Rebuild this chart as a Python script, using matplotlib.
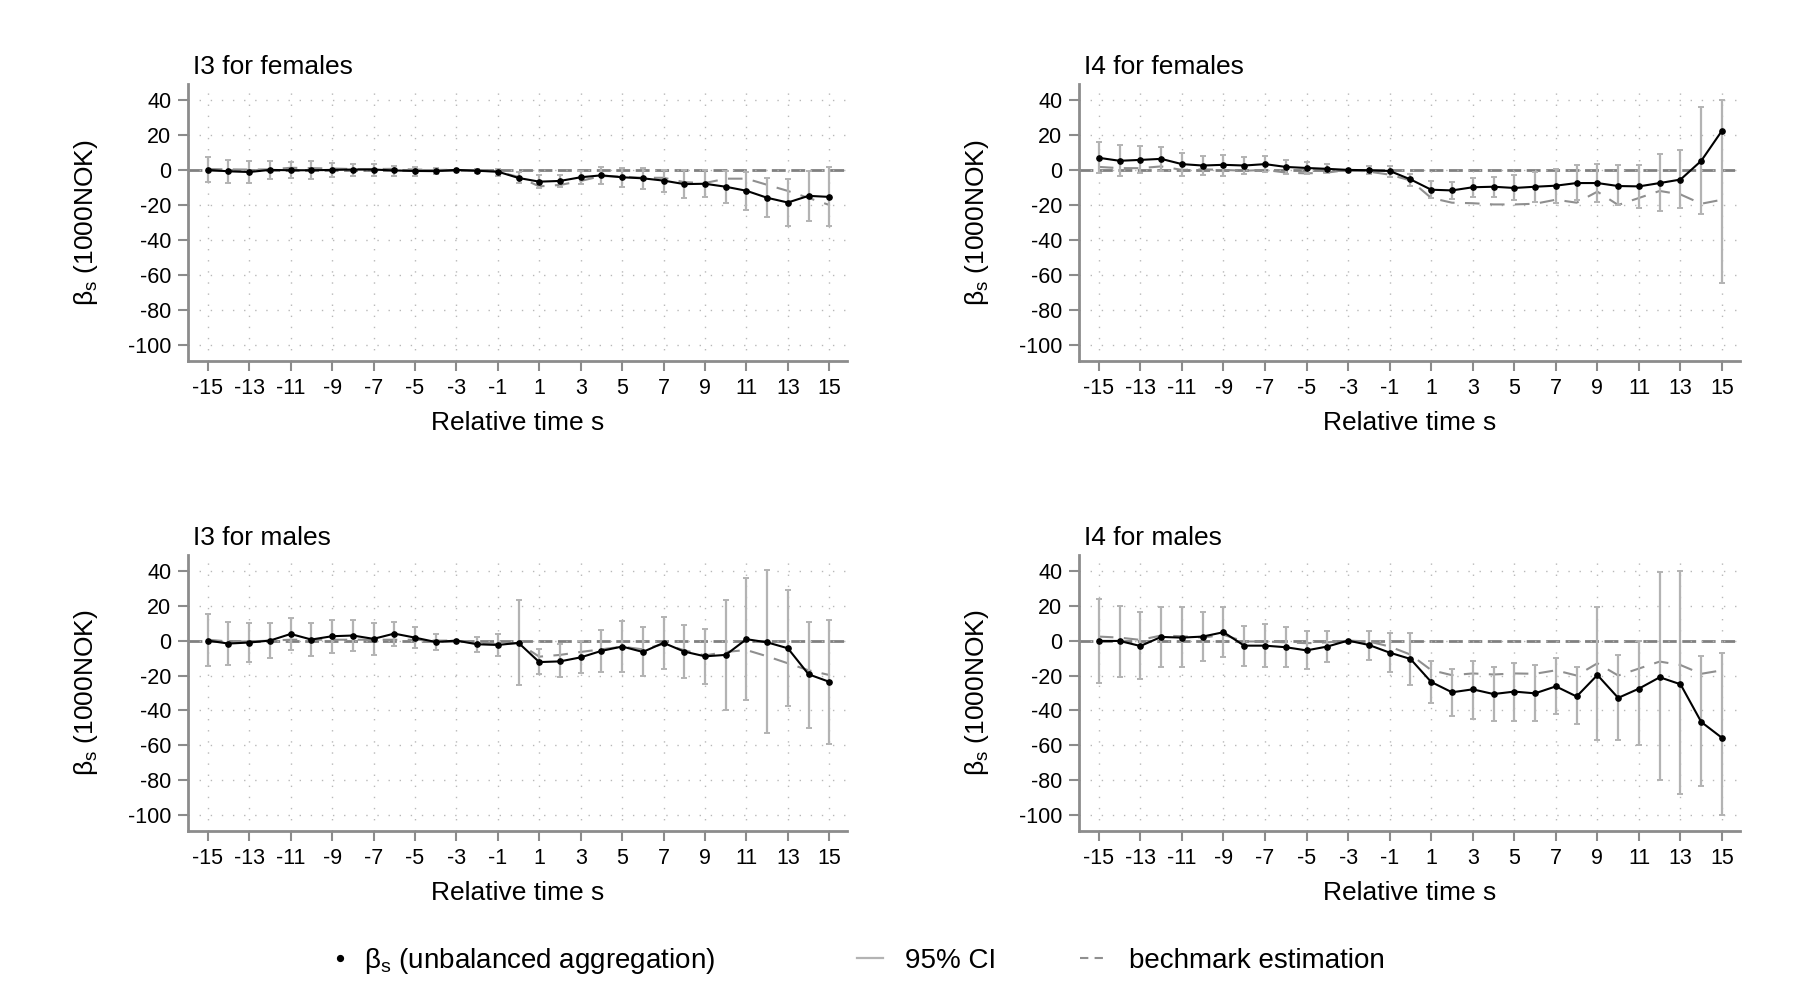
import numpy as np
import matplotlib
matplotlib.use('Agg')
import matplotlib.pyplot as plt
from matplotlib.lines import Line2D

plt.rcParams['font.family'] = ['Liberation Sans', 'DejaVu Sans']
plt.rcParams['mathtext.fontset'] = 'custom'
plt.rcParams['mathtext.rm'] = 'Liberation Sans'

# relative time s, reference period is s = -3 (no CI)
s = list(range(-15, 16))
nan = np.nan

# ---- I3 for females ----
i3f_est = [0.0, -0.8, -1.2, 0.0, -0.2, -0.2, 0.0, 0.2, 0.2, -0.3, -0.6, -0.7, 0.0, -0.5, -1.0, -4.6,
           -6.7, -6.3, -4.2, -3.1, -4.2, -4.8, -6.1, -8.1, -7.9, -9.6, -11.9, -15.9, -18.6, -14.8, -15.4]
i3f_hi = [7.5, 5.6, 5.2, 5.2, 4.4, 4.8, 4.0, 3.6, 3.3, 2.3, 1.7, 1.0, nan, 0.8, 0.4, -1.3,
          -3.0, -2.7, -0.6, 1.7, 1.2, 1.2, 0.0, -0.2, -0.2, -0.6, -1.2, -4.8, -5.4, -0.4, 1.7]
i3f_lo = [-7.1, -7.3, -7.5, -5.2, -4.6, -5.4, -4.2, -3.5, -3.3, -3.5, -3.3, -2.4, nan, -1.8, -3.6, -7.5,
          -10.2, -9.8, -8.3, -7.9, -10.0, -10.7, -12.7, -15.9, -15.5, -18.8, -22.6, -27.0, -32.0, -29.0, -32.2]
i3f_bench = [0.5, 0.3, 0.2, 0.3, 1.2, 1.0, 0.8, 0.5, 0.5, 0.6, 0.2, 0.0, 0.0, -0.3, -1.0, -4.0,
             -9.4, -8.6, -6.3, -3.5, -3.8, -4.5, -4.5, -7.0, -7.5, -5.0, -5.0, -8.5, -12.0, -16.0, -20.0]

# ---- I4 for females ----
i4f_est = [6.9, 5.2, 5.7, 6.3, 3.3, 2.5, 2.9, 2.5, 3.3, 1.7, 1.1, 0.6, 0.0, -0.2, -0.6, -5.4,
           -11.3, -11.7, -9.9, -9.6, -10.3, -9.6, -9.0, -7.5, -7.5, -9.2, -9.4, -7.5, -5.5, 5.2, 22.4]
i4f_hi = [15.7, 14.0, 13.6, 13.0, 9.9, 8.2, 8.6, 7.6, 8.2, 5.7, 4.6, 3.4, nan, 2.3, 2.3, -2.3,
          -6.1, -6.9, -4.4, -3.8, -3.1, -1.1, 0.6, 2.7, 3.1, 2.7, 2.9, 9.2, 11.1, 36.0, 40.0]
i4f_lo = [-2.0, -3.6, -1.9, -0.6, -3.4, -2.9, -3.3, -2.5, -1.3, -2.1, -2.3, -2.0, nan, -2.3, -4.0, -9.4,
          -15.9, -16.6, -15.5, -15.3, -17.4, -18.4, -18.7, -17.4, -18.2, -20.0, -22.0, -23.7, -21.8, -25.4, -64.4]
i4f_bench = [1.7, 1.0, 1.0, 2.0, 0.0, 0.3, 0.0, -0.5, 0.0, -1.5, -2.0, -1.5, 0.0, -1.0, -2.7, -6.0,
             -16.0, -18.7, -19.0, -19.7, -19.7, -19.3, -17.0, -18.7, -12.4, -20.0, -16.0, -12.0, -14.0, -19.3, -17.0]

# ---- I3 for males ----
i3m_est = [0.0, -1.7, -1.1, 0.0, 3.8, 0.6, 2.5, 2.9, 1.0, 4.0, 1.7, -0.8, 0.0, -2.1, -2.5, -1.3,
           -12.3, -11.9, -9.6, -5.9, -3.4, -6.5, -1.3, -6.3, -9.0, -8.2, 0.8, -1.0, -4.4, -19.3, -23.6]
i3m_hi = [15.1, 10.7, 10.2, 10.3, 12.8, 10.0, 11.7, 12.0, 10.2, 10.9, 7.7, 3.6, nan, 2.1, 4.0, 23.2,
          -5.0, -2.1, -0.2, 6.3, 11.1, 7.9, 13.6, 9.2, 6.7, 23.4, 35.8, 40.2, 28.9, 10.9, 11.9]
i3m_lo = [-14.8, -14.2, -12.5, -10.0, -5.2, -8.8, -6.9, -6.1, -8.0, -2.9, -4.0, -5.4, nan, -6.7, -9.0, -25.5,
          -19.2, -21.1, -18.8, -18.2, -17.8, -20.5, -16.5, -21.6, -24.9, -39.8, -34.1, -52.9, -37.4, -50.0, -59.0]
i3m_bench = [0.5, -0.5, -0.5, 0.0, 0.5, 0.5, 0.5, 0.5, 0.5, 0.5, 0.5, 0.0, 0.0, -1.5, -2.0, -1.5,
             -9.2, -8.2, -6.5, -5.0, -3.5, -5.0, -2.0, -5.5, -8.5, -6.5, -5.4, -9.0, -13.0, -17.0, -19.7]

# ---- I4 for males ----
i4m_est = [-0.2, -0.2, -3.1, 2.1, 1.7, 2.3, 4.8, -2.9, -2.9, -3.8, -5.6, -3.4, 0.0, -2.5, -6.9, -10.5,
           -23.7, -29.6, -27.9, -30.6, -29.2, -30.2, -26.2, -32.0, -19.7, -32.8, -27.5, -21.0, -25.0, -46.6, -55.7]
i4m_hi = [24.0, 20.0, 16.3, 19.0, 19.0, 16.1, 19.5, 8.4, 9.6, 7.7, 5.6, 5.4, nan, 5.7, 4.4, 4.4,
          -11.7, -16.5, -11.7, -15.0, -12.7, -14.0, -10.0, -15.0, 19.0, -8.0, 0.0, 39.0, 40.0, -9.0, -7.0]
i4m_lo = [-24.0, -20.7, -22.2, -15.1, -15.1, -11.9, -9.4, -14.6, -15.3, -15.1, -16.1, -12.3, nan, -10.9, -18.0, -25.5,
          -35.6, -42.9, -44.8, -46.0, -45.8, -46.0, -42.0, -48.0, -57.0, -57.0, -60.0, -80.0, -88.0, -83.0, -100.0]
i4m_bench = [2.3, 1.7, 0.4, 2.9, 2.5, 1.7, 3.3, -0.5, -0.5, -1.0, -1.5, -1.0, 0.0, -0.5, -3.4, -8.0,
             -16.9, -19.8, -18.8, -19.4, -18.8, -19.0, -17.0, -20.0, -13.0, -20.0, -16.0, -12.0, -14.0, -19.0, -17.0]

titles = ['I3 for females', 'I4 for females', 'I3 for males', 'I4 for males']
xticks = list(range(-15, 16, 2))
yticks = list(range(-100, 41, 20))

SPINE = '#8c8c8c'
CI_COL = '#b3b3b3'
BENCH_COL = '#8f8f8f'

fig = plt.figure(figsize=(18, 10), dpi=100)

rects = [[0.1045, 0.639, 0.366, 0.277],
         [0.5995, 0.639, 0.367, 0.277],
         [0.1045, 0.169, 0.366, 0.276],
         [0.5995, 0.169, 0.367, 0.276]]
panels = [(i3f_est, i3f_lo, i3f_hi, i3f_bench),
          (i4f_est, i4f_lo, i4f_hi, i4f_bench),
          (i3m_est, i3m_lo, i3m_hi, i3m_bench),
          (i4m_est, i4m_lo, i4m_hi, i4m_bench)]

for rect, title, (est, lo, hi, bench) in zip(rects, titles, panels):
    ax = fig.add_axes(rect)
    est = np.array(est)
    lo = np.array(lo)
    hi = np.array(hi)

    ax.grid(True, color='#b8b8b8', linestyle=(0, (1, 7)), linewidth=1.0, zorder=0)
    ax.axhline(0, color='#808080', linestyle=(0, (5, 2)), linewidth=2.0, zorder=1)
    ax.plot(s, bench, color=BENCH_COL, linestyle=(0, (7, 5)), linewidth=1.5, zorder=2)
    ax.errorbar(s, est, yerr=[est - lo, hi - est], fmt='none', ecolor=CI_COL,
                elinewidth=1.6, capsize=2.2, capthick=1.4, zorder=3)
    ax.plot(s, est, color='black', linewidth=1.5, marker='o', markersize=3.8, zorder=4)

    ax.set_xlim(-15.95, 15.85)
    ax.set_ylim(-109, 49)
    ax.set_xticks(xticks)
    ax.set_yticks(yticks)
    ax.set_xticklabels([str(t) for t in xticks])
    ax.set_yticklabels([str(t) for t in yticks])
    for sp in ['top', 'right']:
        ax.spines[sp].set_visible(False)
    for sp in ['left', 'bottom']:
        ax.spines[sp].set_color(SPINE)
        ax.spines[sp].set_linewidth(2.0)
    ax.tick_params(axis='both', direction='out', color=SPINE, width=1.5, length=7,
                   labelsize=15.5, pad=5)
    ax.set_title(title, loc='left', fontsize=19, pad=7, x=0.008)
    ax.set_xlabel('Relative time s', fontsize=19, labelpad=9)
    ax.set_ylabel(r'β$_\mathregular{s}$ (1000NOK)', fontsize=19, labelpad=20)

# legend entries placed along the bottom
entries = [
    (Line2D([], [], color='black', marker='o', markersize=4.2, linestyle='none'),
     r'β$_\mathregular{s}$ (unbalanced aggregation)', 0.185, 0.5, 0.6),
    (Line2D([], [], color=CI_COL, linewidth=1.6), '95% CI', 0.476, 0.95, 0.8),
    (Line2D([], [], color=BENCH_COL, linestyle=(0, (4, 3)), linewidth=1.5),
     'bechmark estimation', 0.600, 0.95, 0.8),
]
for h, lab, xpos, hlen, hpad in entries:
    fig.legend([h], [lab], loc='center left', bbox_to_anchor=(xpos, 0.039),
               frameon=False, fontsize=20, handlelength=hlen, handletextpad=hpad,
               borderpad=0, borderaxespad=0)

fig.savefig('out.png', dpi=100)
